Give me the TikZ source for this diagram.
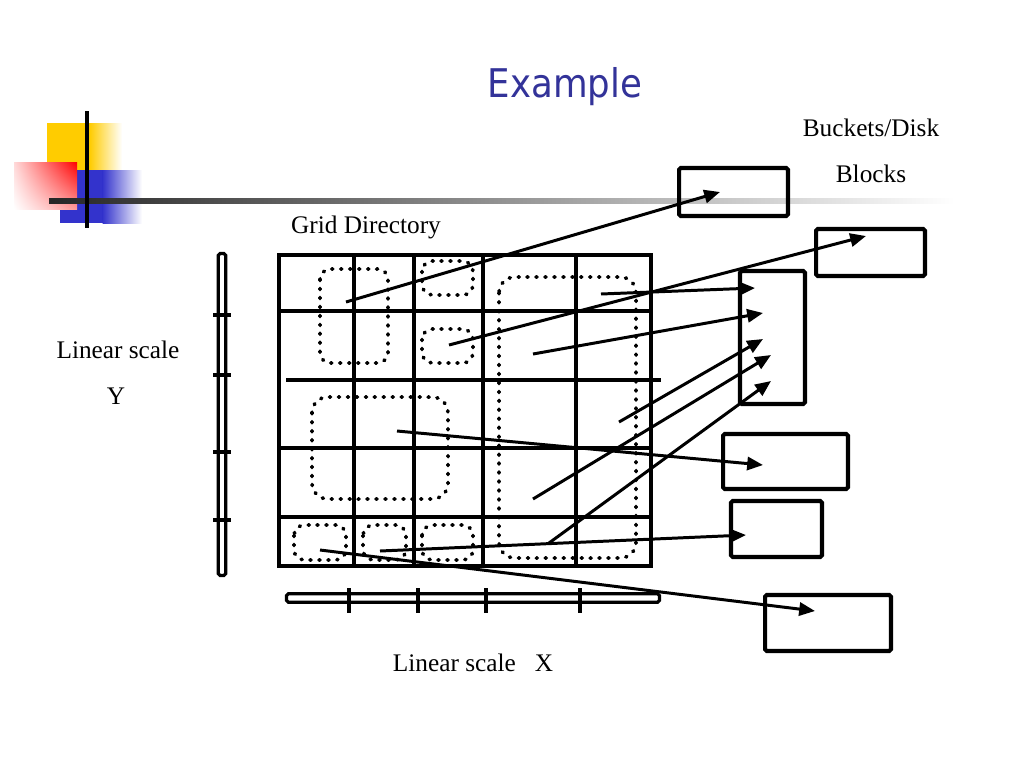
\documentclass[tikz,border=0pt]{standalone}
\usepackage{fontspec}
\setmainfont{Liberation Serif}
\newfontfamily\titlefont{DejaVu Sans Condensed}
\usetikzlibrary{arrows.meta,shadings}
\definecolor{titleblue}{RGB}{51,51,153}
\definecolor{decoyellow}{RGB}{255,204,0}
\definecolor{decoblue}{RGB}{51,51,204}
\definecolor{decored}{RGB}{255,0,0}
\tikzset{
  bucket/.style={draw, line width=2.3pt, rounded corners=1pt, inner sep=0pt},
  gridline/.style={line width=2.3pt},
  scalebar/.style={line width=1.8pt, rounded corners=1pt},
  tick/.style={line width=2pt},
  dotbox/.style={line width=2.1pt, dash pattern=on 0.6pt off 4.5pt, line cap=round, rounded corners=6pt},
  ptr/.style={line width=1.7pt, -{Triangle[length=9pt,width=7.5pt]}},
  lbl/.style={font=\fontsize{14.4}{17}\selectfont, inner sep=0pt, anchor=base},
}
\begin{document}
\begin{tikzpicture}[x=0.02cm, y=-0.02cm]
\useasboundingbox (0,0) rectangle (1024,768);

% decorative header
\fill[decoyellow] (47,123) rectangle (90,170);
\shade[left color=decoyellow, right color=white] (89.5,123) rectangle (122,170);
\fill[decoblue] (60,170) rectangle (103,223);
\shade[left color=decoblue, right color=white] (102.5,170) rectangle (142,223);
\shade[upper right=decored, lower right=decored!40, upper left=decored!15, lower left=white] (14,162) rectangle (77,209);
\shade[left color=black!85, right color=white] (49,198.5) rectangle (955,203.5);
\draw[line width=2.3pt] (87,111) -- (87,228);

% title and labels
\node[inner sep=0pt, anchor=base, text=titleblue, font=\titlefont\fontsize{22.5}{27}\selectfont] (title) at (565,97) {Example};
\node[lbl] (bdlabel) at (871,136) {Buckets/Disk};
\node[lbl] (blklabel) at (871,182) {Blocks};
\node[lbl] (gdlabel) at (366,233) {Grid Directory};
\node[lbl] (lsy) at (118,358) {Linear scale};
\node[lbl] (ylabel) at (116,404) {Y};
\node[lbl] (lsx) at (473,671) {Linear scale~~~X};

% grid directory
\node[draw, gridline, inner sep=0pt, minimum width=7.44cm, minimum height=6.22cm] (grid) at (465,410.5) {};
\foreach \xx in {354,414,483,576} \draw[gridline] (\xx,255) -- (\xx,566);
\foreach \yy in {311,448,517} \draw[gridline] (279,\yy) -- (651,\yy);
\draw[gridline] (286,380) -- (661,380);

% dotted regions
\draw[dotbox] (320,269) rectangle (388,363);
\draw[dotbox] (422,261) rectangle (473,295);
\draw[dotbox] (422,329) rectangle (473,363);
\draw[dotbox, rounded corners=9pt] (499,277) rectangle (636,558);
\draw[dotbox, rounded corners=9pt] (312,397) rectangle (448,499);
\draw[dotbox] (294,525) rectangle (346,560);
\draw[dotbox] (363,525) rectangle (406,560);
\draw[dotbox] (422,525) rectangle (473,560);

% linear scale Y
\node[draw, scalebar, inner sep=0pt, minimum width=0.15cm, minimum height=6.44cm] (scaley) at (222,414.5) {};
\foreach \yy in {315,375,452,520} \draw[tick] (213,\yy) -- (231,\yy);

% linear scale X
\node[draw, scalebar, inner sep=0pt, minimum width=7.46cm, minimum height=0.17cm] (scalex) at (473,598) {};
\foreach \xx in {349,418,486,580} \draw[tick] (\xx,588) -- (\xx,613);

% buckets
\node[bucket, minimum width=2.18cm, minimum height=0.96cm] (b1) at (733.5,192) {};
\node[bucket, minimum width=2.18cm, minimum height=0.94cm] (b2) at (870.5,252.5) {};
\node[bucket, minimum width=1.30cm, minimum height=2.66cm] (b3) at (772.5,337.5) {};
\node[bucket, minimum width=2.50cm, minimum height=1.10cm] (b4) at (785.5,461.5) {};
\node[bucket, minimum width=1.82cm, minimum height=1.12cm] (b5) at (776.5,529) {};
\node[bucket, minimum width=2.52cm, minimum height=1.12cm] (b6) at (828,623) {};

% pointer start and end points
\coordinate (s1) at (346,302);  \coordinate (e1) at (720,192);
\coordinate (s2) at (449,345);  \coordinate (e2) at (866,236);
\coordinate (s3) at (601,294);  \coordinate (e3) at (755,288);
\coordinate (s4) at (533,354);  \coordinate (e4) at (763,313);
\coordinate (s5) at (619,422);  \coordinate (e5) at (763,339);
\coordinate (s6) at (533,499);  \coordinate (e6) at (771,355);
\coordinate (s7) at (549,543);  \coordinate (e7) at (771,381);
\coordinate (s8) at (397,431);  \coordinate (e8) at (763,465);
\coordinate (s9) at (380,551);  \coordinate (e9) at (746,535);
\coordinate (s10) at (320,550); \coordinate (e10) at (815,611);

\foreach \i in {1,...,10} \draw[ptr] (s\i) -- (e\i);
\end{tikzpicture}
\end{document}
